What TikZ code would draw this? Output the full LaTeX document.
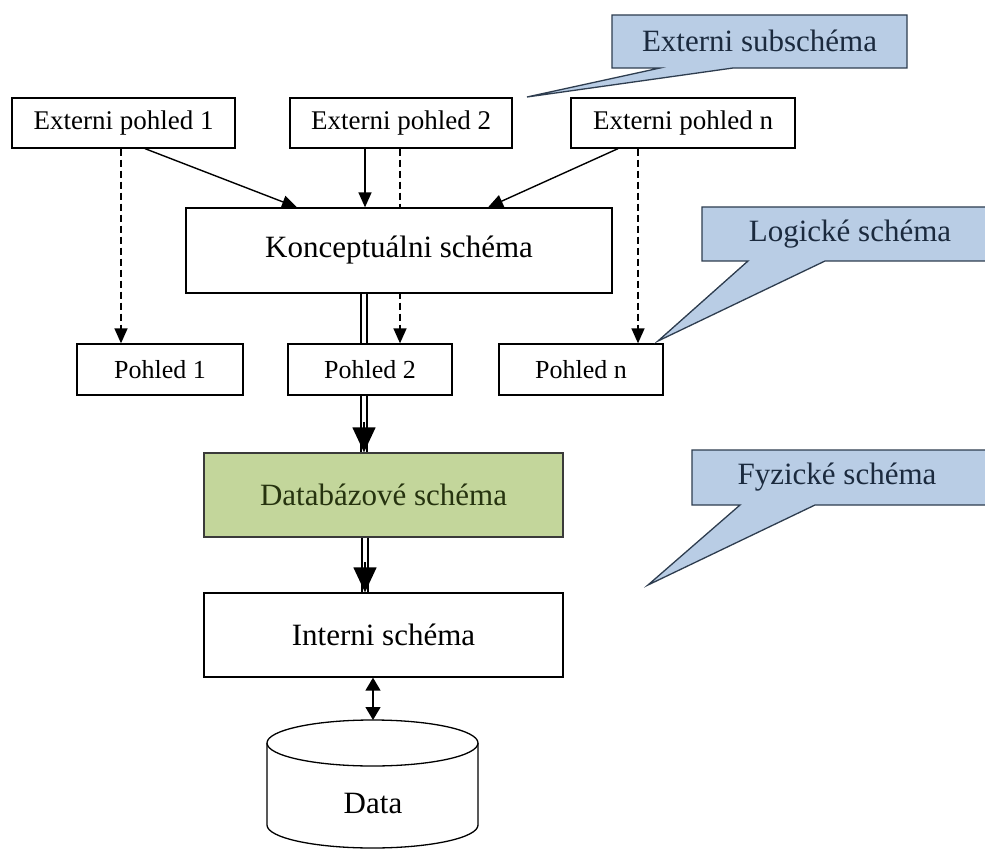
\documentclass[tikz,border=0pt]{standalone}
\usepackage{fontspec}
\setmainfont{Liberation Serif}
\usetikzlibrary{arrows.meta,calc,backgrounds}
\definecolor{calloutfill}{HTML}{B9CDE5}
\definecolor{calloutline}{HTML}{2E3D4F}
\definecolor{callouttext}{HTML}{1B2A3E}
\definecolor{dbfill}{HTML}{C3D69B}
\definecolor{dbline}{HTML}{3A3A3A}
\definecolor{dbtext}{HTML}{26330F}
\begin{document}
\begin{tikzpicture}[x=1pt,y=-1pt,
  box/.style={draw, line width=1.3pt, fill=white, inner sep=0pt, align=center},
  extbox/.style={box, font=\fontsize{27}{31}\selectfont, minimum height=50pt},
  viewbox/.style={box, font=\fontsize{26}{30}\selectfont, minimum height=51pt},
  bigbox/.style={box, font=\fontsize{31}{36}\selectfont, minimum height=84pt},
  calloutshape/.style={fill=calloutfill, draw=calloutline, line width=1.3pt, line join=miter},
  callouttxt/.style={font=\fontsize{31}{36}\selectfont, text=callouttext, inner sep=0pt},
  conn/.style={line width=1.4pt},
  tipS/.style={-{Triangle[length=15pt,width=13pt]}},
  tipB/.style={line width=1.4pt, -{Triangle[length=25pt,width=23pt]}},
  dashconn/.style={conn, dash pattern=on 7pt off 4pt},
  dbl/.style={double, line width=1.6pt, double distance=4pt}
]
\useasboundingbox (0,0) rectangle (985,850);

% external views
\node[extbox, minimum width=223pt] (ep1) at (123.5,123) {Externi pohled 1};
\node[extbox, minimum width=222pt] (ep2) at (401,123) {Externi pohled 2};
\node[extbox, minimum width=224pt] (epn) at (683,123) {Externi pohled n};

% conceptual schema
\node[bigbox, minimum width=426pt, minimum height=85pt] (kon) at (399,250.5) {Konceptuálni schéma};

% views
\node[viewbox, minimum width=166pt] (p1) at (160,369.5) {Pohled 1};
\node[viewbox, minimum width=164pt] (p2) at (370,369.5) {Pohled 2};
\node[viewbox, minimum width=164pt] (pn) at (581,369.5) {Pohled n};

% database and internal schema
\node[bigbox, minimum width=359pt, fill=dbfill, draw=dbline, text=dbtext] (db) at (383.5,495) {Databázové schéma};
\node[bigbox, minimum width=359pt] (int) at (383.5,635) {Interni schéma};

% dashed projections, behind the boxes
\begin{pgfonlayer}{background}
  \fill[white] (0,0) rectangle (985,850);
  \draw[dashconn, tipS] ($(ep1.south)+(-2.5,0)$) -- ($(p1.north)+(-39,0)$);
  \draw[dashconn, tipS] ($(ep2.south)+(-1,0)$) -- ($(p2.north)+(30,0)$);
  \draw[dashconn, tipS] ($(epn.south)+(-45,0)$) -- ($(pn.north)+(57,0)$);
\end{pgfonlayer}

% external views into the conceptual schema
\draw[conn, tipS] ($(ep1.south)+(21.5,0)$) -- ($(kon.north)+(-102,0)$);
\draw[conn, tipS] ($(ep2.south)+(-36,0)$) -- ($(kon.north)+(-34,0)$);
\draw[conn, tipS] ($(epn.south)+(-65,0)$) -- ($(kon.north)+(89,0)$);

% double mapping lines
\draw[dbl] ($(kon.south)+(-35,0)$) -- ($(p2.north)+(-6,0)$);
\draw[dbl] ($(p2.south)+(-6,0)$) -- ($(db.north)+(-19.5,0)$);
\draw[tipB] ($(db.north)+(-19.5,-30)$) -- ($(db.north)+(-19.5,0)$);
\draw[dbl] ($(db.south)+(-18.5,0)$) -- ($(int.north)+(-18.5,0)$);
\draw[tipB] ($(int.north)+(-18.5,-30)$) -- ($(int.north)+(-18.5,0)$);

% data store
\draw[line width=1.3pt, fill=white] (267,743) -- (267,825)
  arc[start angle=180, end angle=0, x radius=105.5, y radius=23] -- (478,743);
\draw[line width=1.3pt, fill=white] (372.5,743) ellipse[x radius=105.5, y radius=23];
\coordinate (datatop) at (373,720);
\node[font=\fontsize{31}{36}\selectfont, inner sep=0pt] (data) at (373,803) {Data};
\draw[conn, {Triangle[length=13pt,width=15pt]}-{Triangle[length=13pt,width=15pt]}]
  ($(int.south)+(-10.5,0)$) -- (datatop);

% callouts
\draw[calloutshape] (612,15) -- (907,15) -- (907,68) -- (733,68) -- (527,97)
  -- (660,68) -- (612,68) -- cycle;
\node[callouttxt] (sub) at (759.5,41) {Externi subschéma};

\draw[calloutshape] (702,207) -- (1000,207) -- (1000,261) -- (825,261) -- (658,341)
  -- (748,261) -- (702,261) -- cycle;
\node[callouttxt] (log) at (850,234) {Logické schéma};

\draw[calloutshape] (692,450) -- (1000,450) -- (1000,505) -- (815,505) -- (648,585)
  -- (740,505) -- (692,505) -- cycle;
\node[callouttxt] (fyz) at (837,477.5) {Fyzické schéma};
\end{tikzpicture}
\end{document}
